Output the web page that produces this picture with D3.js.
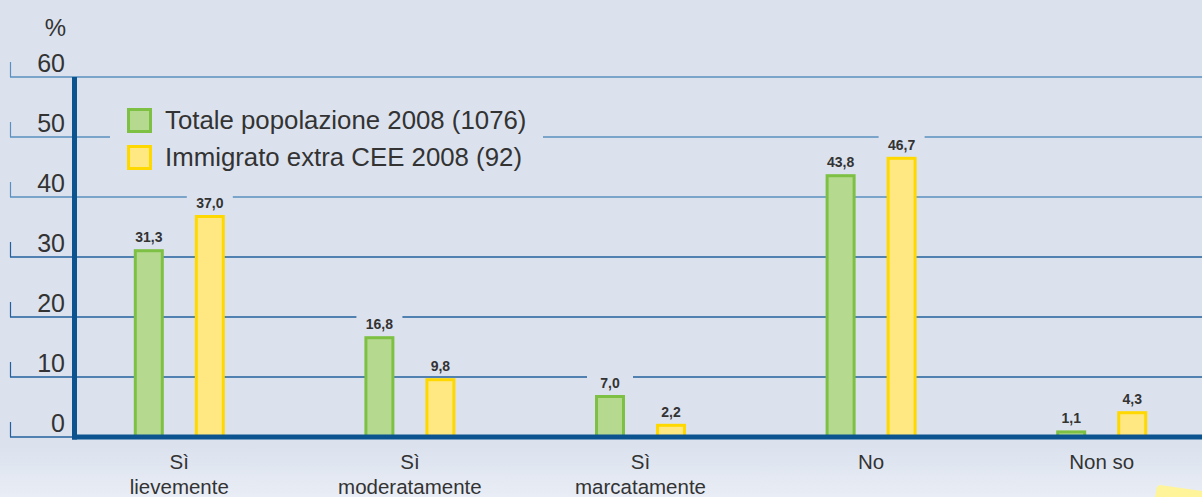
<!DOCTYPE html>
<meta charset="utf-8">
<script src="https://cdn.jsdelivr.net/npm/d3@7"></script>
<html>
<head>
<style>
body { margin: 0; background: #dbe2ee; }
svg { display: block; }
</style>
</head>
<body>
<div id="my_dataviz"></div>
</body>
</html>

<script>

// data
var categories = [["Sì", "lievemente"], ["Sì", "moderatamente"], ["Sì", "marcatamente"], ["No"], ["Non so"]];
var totale = [31.3, 16.8, 7.0, 43.8, 1.1];
var immigrato = [37.0, 9.8, 2.2, 46.7, 4.3];
var seriesNames = ["Totale popolazione 2008 (1076)", "Immigrato extra CEE 2008 (92)"];
var yTicks = [0, 10, 20, 30, 40, 50, 60];

var width = 1202, height = 497;
var bg = "#dbe2ee";

var svg = d3.select("#my_dataviz")
  .append("svg")
    .attr("width", width)
    .attr("height", height);

// background with a lighter band at the bottom
var grad = svg.append("defs").append("linearGradient")
  .attr("id", "bgGrad").attr("x1", 0).attr("y1", 0).attr("x2", 0).attr("y2", 1);
grad.append("stop").attr("offset", "0.9").attr("stop-color", bg);
grad.append("stop").attr("offset", "1").attr("stop-color", "#e9edf5");
svg.append("rect").attr("width", width).attr("height", height).attr("fill", "url(#bgGrad)");

var y = d3.scaleLinear().domain([0, 60]).range([437, 77]);
var x = d3.scaleBand().domain(d3.range(categories.length)).range([64, 1217]).padding(0);

// gridlines + little tick at the left
var grid = svg.append("g");
grid.selectAll(".gl").data(yTicks).enter().append("line")
  .attr("x1", 10).attr("x2", width)
  .attr("y1", function(d) { return y(d) }).attr("y2", function(d) { return y(d) })
  .attr("stroke", function(d) { return d >= 40 ? "#5b8fbf" : "#22619d" })
  .attr("stroke-width", 1.5);
grid.selectAll(".tk").data(yTicks).enter().append("line")
  .attr("x1", 10.5).attr("x2", 10.5)
  .attr("y1", function(d) { return y(d) }).attr("y2", function(d) { return y(d) - 15 })
  .attr("stroke", function(d) { return d >= 40 ? "#5b8fbf" : "#22619d" })
  .attr("stroke-width", 1.2);
grid.selectAll(".tl").data(yTicks).enter().append("text")
  .attr("x", 65).attr("y", function(d) { return y(d) - 5 })
  .attr("text-anchor", "end")
  .style("font", "25px 'Liberation Sans', Arial, sans-serif")
  .attr("fill", "#333")
  .text(function(d) { return d });
svg.append("text")
  .attr("x", 66).attr("y", 36)
  .attr("text-anchor", "end")
  .style("font", "24px 'Liberation Sans', Arial, sans-serif")
  .attr("fill", "#333")
  .text("%");

// legend (box hides the gridline)
var leg = svg.append("g");
leg.append("rect").attr("x", 110).attr("y", 98).attr("width", 433).attr("height", 80).attr("fill", bg);
var fills = ["#b5d98f", "#ffe882"], strokes = ["#7dc043", "#ffd800"];
seriesNames.forEach(function(n, i) {
  leg.append("rect")
    .attr("x", 128.5).attr("y", 109.5 + i * 37).attr("width", 22).attr("height", 22)
    .attr("fill", fills[i]).attr("stroke", strokes[i]).attr("stroke-width", 3);
  leg.append("text")
    .attr("x", 165).attr("y", 129 + i * 37)
    .style("font", "25.8px 'Liberation Sans', Arial, sans-serif")
    .attr("fill", "#333")
    .text(n);
});

// bars
var fmt = function(v) { return d3.format(".1f")(v).replace(".", ",") };
var off = [-30.5, 30.5];
[totale, immigrato].forEach(function(series, s) {
  var g = svg.append("g");
  g.selectAll("rect").data(series).enter().append("rect")
    .attr("x", function(d, i) { return x(i) + x.bandwidth() / 2 + off[s] - 13.5 })
    .attr("y", function(d) { return y(d) + 1.5 })
    .attr("width", 27)
    .attr("height", function(d) { return y(0) - y(d) - 1.5 })
    .attr("fill", fills[s]).attr("stroke", strokes[s]).attr("stroke-width", 3);
  // label with a patch of background behind it
  var lab = g.selectAll("g.lab").data(series).enter().append("g")
    .attr("transform", function(d, i) {
      return "translate(" + (x(i) + x.bandwidth() / 2 + off[s]) + "," + (y(d) - 7) + ")" });
  lab.append("rect").attr("x", -23).attr("y", -16).attr("width", 46).attr("height", 19).attr("fill", bg);
  lab.append("text")
    .attr("text-anchor", "middle")
    .style("font", "bold 14px 'Liberation Sans Narrow', 'Arial Narrow', sans-serif")
    .attr("fill", "#333")
    .text(function(d) { return fmt(d) });
});

// axes
svg.append("line").attr("x1", 74.5).attr("x2", 74.5).attr("y1", y(60)).attr("y2", y(0) + 2.5)
  .attr("stroke", "#0b5490").attr("stroke-width", 5);
svg.append("line").attr("x1", 72).attr("x2", width).attr("y1", y(0)).attr("y2", y(0))
  .attr("stroke", "#0b5490").attr("stroke-width", 5);

// category labels
var cl = svg.append("g").selectAll("text").data(categories).enter().append("text")
  .attr("text-anchor", "middle")
  .style("font", "20.5px 'Liberation Sans', Arial, sans-serif")
  .attr("fill", "#333");
cl.selectAll("tspan").data(function(d, i) { return d.map(function(t) { return {t: t, i: i} }) })
  .enter().append("tspan")
  .attr("x", function(d) { return x(d.i) + x.bandwidth() / 2 })
  .attr("y", function(d, j) { return 469 + j * 25 })
  .text(function(d) { return d.t });

// yellow corner decoration
svg.append("path")
  .attr("d", "M1160,485 Q1156,486 1156,492 L1155,497 L1202,497 L1202,491 Z")
  .attr("fill", "#fff49a");

</script>
